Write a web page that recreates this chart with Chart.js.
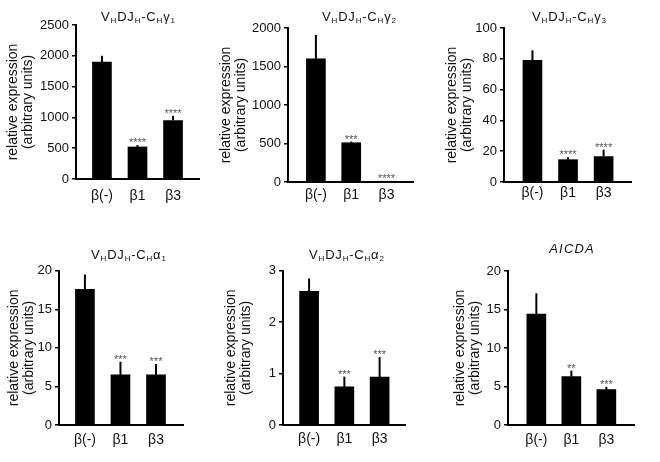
<!DOCTYPE html>
<html>
<head>
<meta charset="utf-8">
<script src="https://cdn.jsdelivr.net/npm/chart.js@4.4.0/dist/chart.umd.min.js"></script>
<style>
  body { margin: 0; background: #fff; }
  #wrap { position: relative; width: 660px; height: 462px; overflow: hidden; background: #fff; }
  #wrap canvas { position: absolute; }
</style>
</head>
<body>
<div id="wrap"></div>
<script>
// groups on the x axis
const groups = ['β(-)', 'β1', 'β3'];
const groupPos = [0, 1, 2];

// VHDJH-CHγ1
const g1Values = [1900, 520, 950];
const g1Errors = [100, 30, 75];
const g1Stars = ['', '****', '****'];
const g1Ticks = [0, 2500, 500];

// VHDJH-CHγ2
const g2Values = [1600, 510, 10];
const g2Errors = [310, 15, 0];
const g2Stars = ['', '***', '****'];
const g2Ticks = [0, 2000, 500];

// VHDJH-CHγ3
const g3Values = [79, 14.5, 16.5];
const g3Errors = [6.5, 1.5, 4.5];
const g3Stars = ['', '****', '****'];
const g3Ticks = [0, 100, 20];

// VHDJH-CHα1
const a1Values = [17.6, 6.5, 6.5];
const a1Errors = [1.9, 1.7, 1.4];
const a1Stars = ['', '***', '***'];
const a1Ticks = [0, 20, 5];

// VHDJH-CHα2
const a2Values = [2.6, 0.74, 0.93];
const a2Errors = [0.25, 0.2, 0.39];
const a2Stars = ['', '***', '***'];
const a2Ticks = [0, 3, 1];

// AICDA
const aicdaValues = [14.4, 6.3, 4.6];
const aicdaErrors = [2.7, 0.75, 0.35];
const aicdaStars = ['', '**', '***'];
const aicdaTicks = [0, 20, 5];

const yTitle = ['relative expression', '(arbitrary units)'];

// title pieces: [text, subscript?]
function vdjTitle(c, n) {
    return [['V', 0], ['H', 1], ['DJ', 0], ['H', 1], ['-C', 0], ['H', 1], [c, 0], [n, 1]];
}

const FONT = '"Liberation Sans", Arial, Helvetica, sans-serif';

// layout of each panel (page coords)
let panels = [
    { values: g1Values, errors: g1Errors, stars: g1Stars, ticks: g1Ticks, title: vdjTitle('γ', '1'),
      left: -4, top: 0, h: 230, padTop: 25, axisH: 51, padRight: 17, yTitlePad: 9.5, xPad: 8.6,
      xMin: -0.73, xMax: 2.73, titleX: 138, titleY: 20.7 },
    { values: g2Values, errors: g2Errors, stars: g2Stars, ticks: g2Ticks, title: vdjTitle('γ', '2'),
      left: 208, top: 0, h: 230, padTop: 28, axisH: 48, padRight: 15, yTitlePad: 10.5, xPad: 4.6,
      xMin: -0.79, xMax: 2.75, titleX: 359, titleY: 21 },
    { values: g3Values, errors: g3Errors, stars: g3Stars, ticks: g3Ticks, title: vdjTitle('γ', '3'),
      left: 424, top: 0, h: 230, padTop: 28, axisH: 48, padRight: 13, yTitlePad: 20.2, xPad: 3,
      xMin: -0.80, xMax: 2.77, titleX: 569, titleY: 21 },
    { values: a1Values, errors: a1Errors, stars: a1Stars, ticks: a1Ticks, title: vdjTitle('α', '1'),
      left: -21, top: 230, h: 232, padTop: 40.7, axisH: 37, padRight: 16, yTitlePad: 27.5, xPad: 6.6,
      xMin: -0.73, xMax: 2.76, titleX: 128.5, titleY: 29.3 },
    { values: a2Values, errors: a2Errors, stars: a2Stars, ticks: a2Ticks, title: vdjTitle('α', '2'),
      left: 203, top: 230, h: 232, padTop: 40.7, axisH: 37, padRight: 18, yTitlePad: 20.5, xPad: 6,
      xMin: -0.74, xMax: 2.72, titleX: 346.5, titleY: 29.3 },
    { values: aicdaValues, errors: aicdaErrors, stars: aicdaStars, ticks: aicdaTicks, title: [['AICDA', 0]], italic: true,
      left: 428, top: 230, h: 232, padTop: 41, axisH: 37, padRight: 14, yTitlePad: 24.5, xPad: 6.6,
      xMin: -0.81, xMax: 2.79, titleX: 571.5, titleY: 23.3 }
];

function drawTitle(ctx, p) {
    let spacing = p.italic ? 1.2 : 0.8;
    let style = p.italic ? 'italic ' : '';
    let chars = [];
    p.title.forEach(part => {
        for (let ch of part[0]) chars.push([ch, part[1]]);
    });
    let total = 0;
    chars.forEach(c => {
        ctx.font = style + (c[1] ? '8px ' : '13px ') + FONT;
        c.push(ctx.measureText(c[0]).width);
        total += c[2] + spacing;
    });
    total -= spacing;
    let x = p.titleX - p.left - total / 2;
    ctx.fillStyle = '#111';
    ctx.textAlign = 'left';
    ctx.textBaseline = 'alphabetic';
    chars.forEach(c => {
        ctx.font = style + (c[1] ? '8px ' : '13px ') + FONT;
        ctx.fillText(c[0], x, p.titleY + (c[1] ? 2 : 0));
        x += c[2] + spacing;
    });
}

function makeExtras(p) {
    return {
        id: 'extras',
        afterDatasetsDraw(chart) {
            let ctx = chart.ctx;
            let xs = chart.scales.x;
            let ys = chart.scales.y;
            ctx.save();
            for (let i = 0; i < p.values.length; i++) {
                let px = xs.getPixelForValue(groupPos[i]);
                let base = ys.getPixelForValue(p.values[i]);
                let top = ys.getPixelForValue(p.values[i] + p.errors[i]);
                // error bar (upper only)
                if (p.errors[i] > 0) {
                    ctx.strokeStyle = '#000';
                    ctx.lineWidth = 2;
                    ctx.beginPath();
                    ctx.moveTo(px, base);
                    ctx.lineTo(px, top);
                    ctx.stroke();
                }
                if (p.stars[i]) {
                    ctx.fillStyle = '#555';
                    ctx.font = '11px ' + FONT;
                    ctx.textAlign = 'center';
                    ctx.textBaseline = 'alphabetic';
                    ctx.fillText(p.stars[i], px, top + 1);
                }
            }
            drawTitle(ctx, p);
            ctx.restore();
        }
    };
}

let wrap = document.getElementById('wrap');

panels.forEach((p, n) => {
    let canvas = document.createElement('canvas');
    canvas.id = 'panel' + n;
    canvas.width = 220;
    canvas.height = p.h;
    canvas.style.left = p.left + 'px';
    canvas.style.top = p.top + 'px';
    wrap.appendChild(canvas);

    let ctx = canvas.getContext('2d');
    new Chart(ctx, {
        type: 'bar',
        data: {
            datasets: [{
                data: p.values.map((v, i) => ({ x: groupPos[i], y: v })),
                backgroundColor: '#000',
                borderWidth: 0,
                barThickness: 19
            }]
        },
        options: {
            responsive: false,
            animation: false,
            events: [],
            layout: { padding: { left: 0, top: p.padTop, right: p.padRight, bottom: 0 } },
            plugins: { legend: { display: false }, tooltip: { enabled: false } },
            scales: {
                x: {
                    type: 'linear',
                    bounds: 'data',
                    offset: false,
                    min: p.xMin,
                    max: p.xMax,
                    grid: { display: false, drawTicks: false },
                    border: { display: true, color: '#000', width: 2 },
                    ticks: {
                        maxRotation: 0,
                        autoSkip: false,
                        padding: p.xPad,
                        color: '#111',
                        font: { family: FONT, size: 14 },
                        callback: v => groups[groupPos.indexOf(v)] || ''
                    },
                    // one tick per group
                    afterBuildTicks(scale) { scale.ticks = groupPos.map(v => ({ value: v })); },
                    afterFit(scale) { scale.height = p.axisH; }
                },
                y: {
                    min: p.ticks[0],
                    max: p.ticks[1],
                    grid: { display: true, drawOnChartArea: false, drawTicks: true, tickLength: 4, color: '#000', lineWidth: 1.5 },
                    border: { display: true, color: '#000', width: 2 },
                    ticks: {
                        stepSize: p.ticks[2],
                        padding: 3,
                        color: '#111',
                        font: { family: FONT, size: 13 },
                        callback: v => String(v)
                    },
                    title: {
                        display: true,
                        text: yTitle,
                        color: '#111',
                        font: { family: FONT, size: 14, lineHeight: '15px' },
                        padding: { top: p.yTitlePad, bottom: 0 }
                    },
                    afterFit(scale) { scale.width = 80; }
                }
            }
        },
        plugins: [makeExtras(p)]
    });
});
</script>
</body>
</html>
